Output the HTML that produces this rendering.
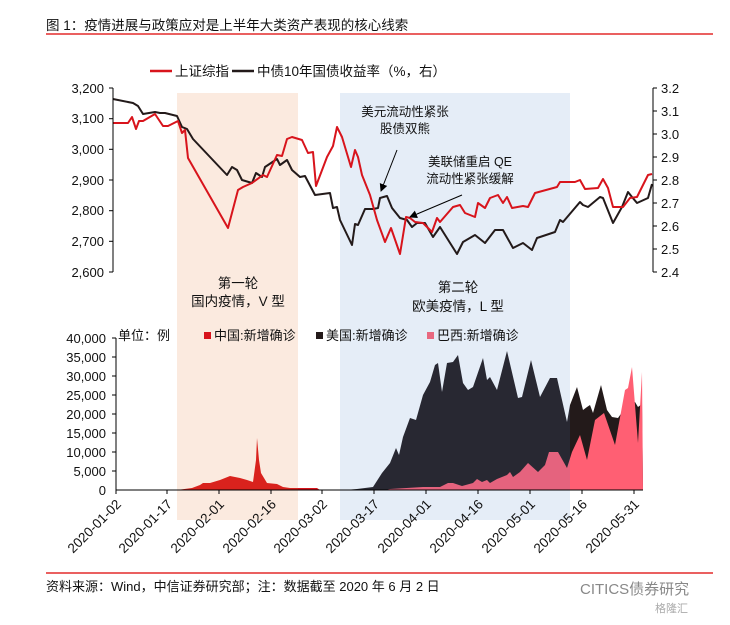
<!DOCTYPE html>
<html><head><meta charset="utf-8"><style>
body{margin:0;background:#fff;width:730px;height:620px;overflow:hidden}
svg text{font-family:"Liberation Sans","Noto Sans CJK SC",sans-serif;fill:#111}
</style></head><body>
<svg width="730" height="620" viewBox="0 0 730 620" xmlns="http://www.w3.org/2000/svg">
<defs><marker id="ah" markerWidth="8" markerHeight="8" refX="7" refY="4" orient="auto"><path d="M0,0 L8,4 L0,8 z" fill="#000"/></marker></defs>
<text x="46" y="30" font-size="13.5">图 1：疫情进展与政策应对是上半年大类资产表现的核心线索</text>
<line x1="46" y1="34" x2="713" y2="34" stroke="#d00" stroke-width="1.3"/>
<line x1="150" y1="71" x2="172" y2="71" stroke="#d8141c" stroke-width="2.5"/>
<text x="175" y="76" font-size="13.5">上证综指</text>
<line x1="232" y1="71" x2="254" y2="71" stroke="#231a1a" stroke-width="2.5"/>
<text x="257" y="76" font-size="13.5">中债10年国债收益率（%，右）</text>
<polygon fill="#231a1a" points="345,490 357,489 373,487 382,473 390,463 396,448 399,455 403,437 410,418 416,420 423,395 430,382 435,365 438,363 442,392 447,363 453,362 458,355 463,383 468,390 473,387 483,358 487,380 490,377 497,390 507,351 518,398 522,397 531,360 540,397 550,378 557,378 567,422 570,405 577,387 583,410 587,407 590,405 593,413 601,385 607,410 612,417 618,418 625,408 635,402 638,407 642,404 643,490"/>
<polygon fill="#ff5f73" points="385,490 390,489 423,487 440,487 448,483 453,483 462,486 473,483 477,479 482,482 487,480 490,483 497,479 507,475 510,472 513,477 520,472 528,463 538,472 545,465 549,452 558,452 567,468 572,452 580,435 587,460 595,420 604,413 615,445 625,390 628,388 632,367 638,443 642,372 643,490"/>
<polygon fill="#d8141c" points="177,490 192,488 200,485 203,483 210,483 220,480 230,476 240,478 247,480 253,482 256,460 257,438 259,460 261,473 267,483 277,484 283,487 290,488 317,488 320,490"/>
<rect x="177" y="93" width="121" height="427" fill="rgb(228,115,42)" fill-opacity="0.15"/>
<rect x="340" y="93" width="230" height="427" fill="rgb(74,127,200)" fill-opacity="0.14"/>
<polyline fill="none" stroke="#231a1a" stroke-width="2" stroke-linejoin="round" points="113,99 133,103 138,106 143,114 155,112 160,113 165,113 177,116 182,127 187,129 193,139 227,175 232,167 237,170 242,180 252,183 256,173 262,177 265,167 277,159 280,165 287,160 292,170 300,177 305,176 315,195 330,193 333,208 337,207 340,220 352,245 355,224 358,225 365,209 373,209 378,208 380,198 387,196 392,208 400,218 407,220 412,227 417,223 425,223 433,237 440,227 457,254 463,242 475,235 485,243 495,230 503,230 513,248 523,243 532,250 537,238 555,232 560,220 563,222 580,202 583,205 588,207 600,197 603,198 613,223 622,207 628,192 632,197 637,203 648,198 652,184"/>
<polyline fill="none" stroke="#d8141c" stroke-width="2" stroke-linejoin="round" points="113,123 128,123 132,117 136,129 139,121 143,121 155,114 163,126 168,126 178,121 182,133 185,130 188,158 228,228 238,190 243,187 252,183 263,175 267,177 277,155 282,156 287,139 292,137 302,140 308,153 313,152 316,186 327,157 333,146 337,127 342,137 351,167 355,150 358,157 362,175 370,195 377,220 385,242 391,228 400,254 406,217 410,218 415,222 423,223 432,232 437,218 440,222 453,207 460,205 465,213 475,217 478,203 485,208 490,198 498,195 503,203 507,197 512,208 523,206 528,207 535,193 557,187 560,182 575,182 580,180 585,189 598,188 603,179 608,188 613,207 623,207 630,198 637,197 648,175 652,174"/>
<g stroke="#000" stroke-width="1">
<line x1="113" y1="88" x2="113" y2="272"/>
<line x1="109" y1="88" x2="113" y2="88"/><line x1="109" y1="118.7" x2="113" y2="118.7"/><line x1="109" y1="149.3" x2="113" y2="149.3"/><line x1="109" y1="180" x2="113" y2="180"/><line x1="109" y1="210.7" x2="113" y2="210.7"/><line x1="109" y1="241.3" x2="113" y2="241.3"/><line x1="109" y1="272" x2="113" y2="272"/>
<line x1="653" y1="88" x2="653" y2="272"/>
<line x1="653" y1="88" x2="657" y2="88"/><line x1="653" y1="111" x2="657" y2="111"/><line x1="653" y1="134" x2="657" y2="134"/><line x1="653" y1="157" x2="657" y2="157"/><line x1="653" y1="180" x2="657" y2="180"/><line x1="653" y1="203" x2="657" y2="203"/><line x1="653" y1="226" x2="657" y2="226"/><line x1="653" y1="249" x2="657" y2="249"/><line x1="653" y1="272" x2="657" y2="272"/>
</g>
<g font-size="13" text-anchor="end">
<text x="104" y="93">3,200</text><text x="104" y="123">3,100</text><text x="104" y="154">3,000</text><text x="104" y="185">2,900</text><text x="104" y="215">2,800</text><text x="104" y="246">2,700</text><text x="104" y="277">2,600</text>
</g>
<g font-size="13">
<text x="661" y="93">3.2</text><text x="661" y="116">3.1</text><text x="661" y="139">3.0</text><text x="661" y="162">2.9</text><text x="661" y="185">2.8</text><text x="661" y="208">2.7</text><text x="661" y="231">2.6</text><text x="661" y="254">2.5</text><text x="661" y="277">2.4</text>
</g>
<g font-size="12.5" text-anchor="middle">
<text x="405" y="116">美元流动性紧张</text><text x="405" y="133">股债双熊</text>
<text x="470" y="166">美联储重启 QE</text><text x="470" y="183">流动性紧张缓解</text>
</g>
<line x1="397" y1="150" x2="381" y2="191" stroke="#000" stroke-width="1" marker-end="url(#ah)"/>
<line x1="462" y1="195" x2="410" y2="217" stroke="#000" stroke-width="1" marker-end="url(#ah)"/>
<g font-size="13.5" text-anchor="middle">
<text x="238" y="288">第一轮</text><text x="238" y="306">国内疫情，V 型</text>
<text x="458" y="292">第二轮</text><text x="458" y="311">欧美疫情，L 型</text>
</g>
<text x="118" y="340" font-size="13">单位：例</text>
<rect x="204" y="332" width="7" height="7" fill="#d8141c"/><text x="214" y="340" font-size="13">中国:新增确诊</text>
<rect x="316" y="332" width="7" height="7" fill="#231a1a"/><text x="326" y="340" font-size="13">美国:新增确诊</text>
<rect x="427" y="332" width="7" height="7" fill="#e8687f"/><text x="437" y="340" font-size="13">巴西:新增确诊</text>
<g stroke="#000" stroke-width="1">
<line x1="116" y1="338" x2="116" y2="490"/>
<line x1="116" y1="490" x2="643" y2="490"/>
<line x1="112" y1="338" x2="116" y2="338"/><line x1="112" y1="357" x2="116" y2="357"/><line x1="112" y1="376" x2="116" y2="376"/><line x1="112" y1="395" x2="116" y2="395"/><line x1="112" y1="414" x2="116" y2="414"/><line x1="112" y1="433" x2="116" y2="433"/><line x1="112" y1="452" x2="116" y2="452"/><line x1="112" y1="471" x2="116" y2="471"/>
<line x1="116" y1="490" x2="116" y2="494"/><line x1="167" y1="490" x2="167" y2="494"/><line x1="219" y1="490" x2="219" y2="494"/><line x1="271" y1="490" x2="271" y2="494"/><line x1="322" y1="490" x2="322" y2="494"/><line x1="374" y1="490" x2="374" y2="494"/><line x1="426" y1="490" x2="426" y2="494"/><line x1="478" y1="490" x2="478" y2="494"/><line x1="530" y1="490" x2="530" y2="494"/><line x1="582" y1="490" x2="582" y2="494"/><line x1="634" y1="490" x2="634" y2="494"/>
</g>
<g font-size="13" text-anchor="end">
<text x="106" y="343">40,000</text><text x="106" y="362">35,000</text><text x="106" y="381">30,000</text><text x="106" y="400">25,000</text><text x="106" y="419">20,000</text><text x="106" y="438">15,000</text><text x="106" y="457">10,000</text><text x="106" y="476">5,000</text><text x="106" y="495">0</text>
</g>
<g font-size="13.5" text-anchor="end">
<text transform="translate(122,505) rotate(-45)">2020-01-02</text>
<text transform="translate(173,505) rotate(-45)">2020-01-17</text>
<text transform="translate(225,505) rotate(-45)">2020-02-01</text>
<text transform="translate(277,505) rotate(-45)">2020-02-16</text>
<text transform="translate(328,505) rotate(-45)">2020-03-02</text>
<text transform="translate(380,505) rotate(-45)">2020-03-17</text>
<text transform="translate(432,505) rotate(-45)">2020-04-01</text>
<text transform="translate(484,505) rotate(-45)">2020-04-16</text>
<text transform="translate(536,505) rotate(-45)">2020-05-01</text>
<text transform="translate(588,505) rotate(-45)">2020-05-16</text>
<text transform="translate(640,505) rotate(-45)">2020-05-31</text>
</g>
<line x1="46" y1="573" x2="713" y2="573" stroke="#d00" stroke-width="1.3"/>
<text x="46" y="591" font-size="13">资料来源：Wind，中信证券研究部；注：数据截至 2020 年 6 月 2 日</text>
<text x="580" y="594" font-size="15" style="fill:#888">CITICS债券研究</text>
<text x="655" y="612" font-size="11" style="fill:#aaa">格隆汇</text>
</svg>
</body></html>
